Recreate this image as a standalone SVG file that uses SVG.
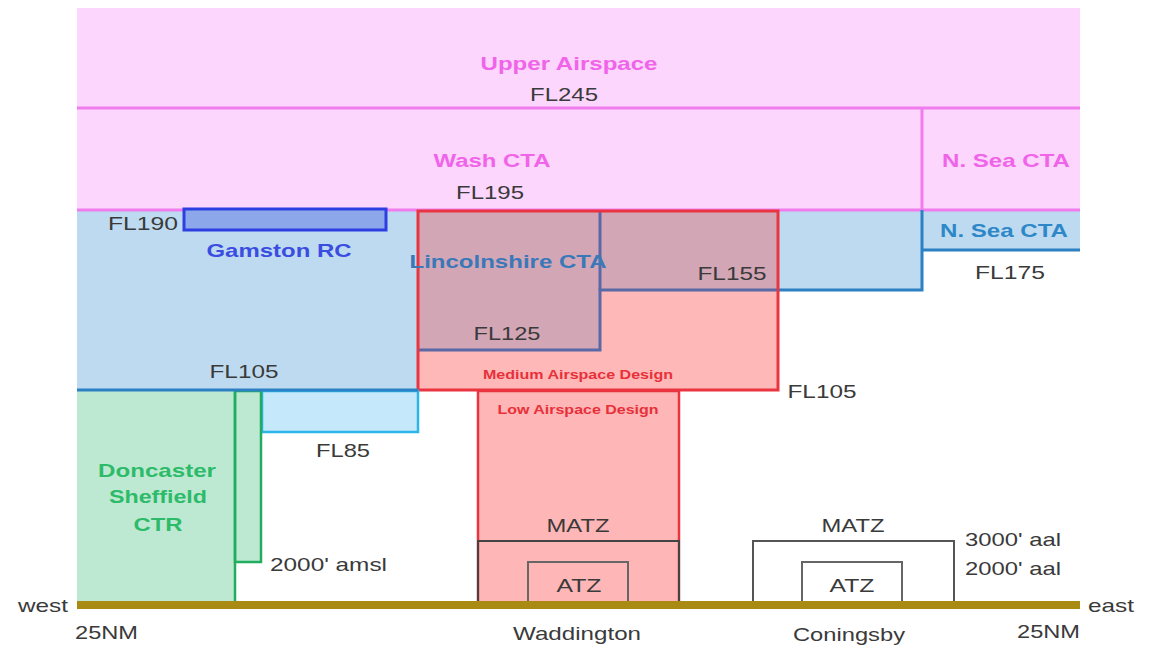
<svg xmlns="http://www.w3.org/2000/svg" width="1153" height="649" viewBox="0 0 1153 649">
<style>
text{font-family:"Liberation Sans",Arial,sans-serif;}
.fl{font-size:19px;fill:#3a3a3a;}
.mag{font-size:19px;font-weight:bold;fill:#f064ea;}
.red{font-size:12.5px;font-weight:bold;fill:#e8303a;}
.bl{font-size:19px;font-weight:bold;}
.c{text-anchor:middle;}
</style>
<rect width="1153" height="649" fill="#ffffff"/>
<g id="upper">
<rect x="77" y="8" width="1003" height="100" fill="#fdd6fd"/>
<text class="mag c" x="569" y="70" textLength="177" lengthAdjust="spacingAndGlyphs">Upper Airspace</text>
<text class="fl c" x="564" y="101" textLength="68" lengthAdjust="spacingAndGlyphs">FL245</text>
</g>
<g id="wash">
<rect x="77" y="108" width="845" height="102" fill="#fdd6fd"/>
<text class="mag c" x="492" y="167" textLength="117" lengthAdjust="spacingAndGlyphs">Wash CTA</text>
<text class="fl c" x="490" y="199" textLength="68" lengthAdjust="spacingAndGlyphs">FL195</text>
</g>
<g id="nsea-upper">
<rect x="922" y="108" width="158" height="102" fill="#fdd6fd"/>
<text class="mag c" x="1006" y="167" textLength="128" lengthAdjust="spacingAndGlyphs">N. Sea CTA</text>
</g>
<g id="lincs">
<path d="M77,210 H922 V290 H600 V350 H418 V390 H77 Z" fill="#bedaf0"/>
</g>
<g id="nsea-lower">
<rect x="922" y="210" width="158" height="40" fill="#bedaf0"/>
<path d="M1080,250 H922" fill="none" stroke="#2c80c4" stroke-width="3"/>
<text x="1004" y="237" class="bl c" fill="#2e88c8" textLength="128" lengthAdjust="spacingAndGlyphs">N. Sea CTA</text>
<text class="fl c" x="1010" y="279" textLength="70" lengthAdjust="spacingAndGlyphs">FL175</text>
</g>
<g id="lines-pink">
<line x1="77" y1="108" x2="1080" y2="108" stroke="#f07ced" stroke-width="3"/>
<line x1="77" y1="210" x2="1080" y2="210" stroke="#f07ced" stroke-width="3"/>
<line x1="922" y1="108" x2="922" y2="210" stroke="#f07ced" stroke-width="3"/>
</g>
<g id="gamston">
<rect x="184" y="209" width="202" height="21" fill="#8da8ea" stroke="#2d3fe2" stroke-width="3"/>
<text x="279" y="257" class="bl c" fill="#3a4de0" textLength="145" lengthAdjust="spacingAndGlyphs">Gamston RC</text>
<text class="fl" x="178" y="230" text-anchor="end" textLength="70" lengthAdjust="spacingAndGlyphs">FL190</text>
</g>
<g id="medium">
<rect x="418" y="211" width="360" height="179" fill="#ffb8b8"/>
<path d="M418,211 H778 V290 H600 V350 H418 Z" fill="#d3a6b6"/>
<path d="M778,290 H600 V350 H418" fill="none" stroke="#5a68a6" stroke-width="3"/>
<line x1="600" y1="211" x2="600" y2="290" stroke="#5a68a6" stroke-width="3"/>
<path d="M778,290 H922 V210" fill="none" stroke="#2c80c4" stroke-width="3"/>
<rect x="418" y="211" width="360" height="179" fill="none" stroke="#ea3540" stroke-width="3"/>
<text class="red c" x="578" y="379" textLength="190" lengthAdjust="spacingAndGlyphs">Medium Airspace Design</text>
</g>
<g id="lincs-labels">
<text x="508" y="268" class="bl c" fill="#3a78b8" textLength="197" lengthAdjust="spacingAndGlyphs">Lincolnshire CTA</text>
<text class="fl c" x="732" y="280" textLength="69" lengthAdjust="spacingAndGlyphs">FL155</text>
<text class="fl c" x="507" y="340" textLength="67" lengthAdjust="spacingAndGlyphs">FL125</text>
<text class="fl c" x="244" y="378" textLength="69" lengthAdjust="spacingAndGlyphs">FL105</text>
<text class="fl c" x="822" y="398" textLength="69" lengthAdjust="spacingAndGlyphs">FL105</text>
</g>
<g id="fl85">
<rect x="262" y="391" width="156" height="41" fill="#c6e8fb" stroke="#2ab6e8" stroke-width="2.5"/>
<text class="fl c" x="343" y="457" textLength="54" lengthAdjust="spacingAndGlyphs">FL85</text>
</g>
<g id="doncaster">
<rect x="77" y="391" width="158" height="213" fill="#bde9d2"/>
<rect x="235" y="391" width="26" height="171" fill="#bde9d2" stroke="#22ad5e" stroke-width="2.5"/>
<line x1="235" y1="391" x2="235" y2="604" stroke="#22ad5e" stroke-width="2.5"/>
<text x="157" y="477" class="bl c" fill="#2dbb6a" textLength="118" lengthAdjust="spacingAndGlyphs">Doncaster</text>
<text x="158" y="503" class="bl c" fill="#2dbb6a" textLength="98" lengthAdjust="spacingAndGlyphs">Sheffield</text>
<text x="158" y="531" class="bl c" fill="#2dbb6a" textLength="49" lengthAdjust="spacingAndGlyphs">CTR</text>
<text class="fl" x="270" y="571" textLength="117" lengthAdjust="spacingAndGlyphs">2000' amsl</text>
</g>
<line x1="77" y1="390" x2="418" y2="390" stroke="#2c80c4" stroke-width="3"/>
<g id="low">
<rect x="478" y="391" width="201" height="213" fill="#ffb6b6" stroke="#ea3540" stroke-width="2.5"/>
<text class="red c" x="578" y="414" textLength="161" lengthAdjust="spacingAndGlyphs">Low Airspace Design</text>
</g>
<g id="waddington">
<rect x="478" y="541" width="201" height="63" fill="none" stroke="#444444" stroke-width="2"/>
<rect x="528" y="562" width="100" height="42" fill="none" stroke="#666666" stroke-width="2"/>
<text class="fl c" x="578" y="532" textLength="63" lengthAdjust="spacingAndGlyphs">MATZ</text>
<text class="fl c" x="579" y="592" textLength="45" lengthAdjust="spacingAndGlyphs">ATZ</text>
<text class="fl c" x="577" y="640" textLength="128" lengthAdjust="spacingAndGlyphs">Waddington</text>
</g>
<g id="coningsby">
<rect x="753" y="541" width="201" height="63" fill="none" stroke="#555555" stroke-width="2"/>
<rect x="802" y="562" width="100" height="42" fill="none" stroke="#666666" stroke-width="2"/>
<text class="fl c" x="853" y="532" textLength="63" lengthAdjust="spacingAndGlyphs">MATZ</text>
<text class="fl c" x="852" y="592" textLength="45" lengthAdjust="spacingAndGlyphs">ATZ</text>
<text class="fl c" x="849" y="641" textLength="112" lengthAdjust="spacingAndGlyphs">Coningsby</text>
<text class="fl" x="965" y="546" textLength="96" lengthAdjust="spacingAndGlyphs">3000' aal</text>
<text class="fl" x="965" y="575" textLength="96" lengthAdjust="spacingAndGlyphs">2000' aal</text>
</g>
<g id="ground">
<line x1="77" y1="605" x2="1080" y2="605" stroke="#a98a12" stroke-width="8"/>
<text class="fl" x="18" y="612" textLength="50" lengthAdjust="spacingAndGlyphs">west</text>
<text class="fl" x="1088" y="612" textLength="46" lengthAdjust="spacingAndGlyphs">east</text>
<text class="fl" x="75" y="639" textLength="63" lengthAdjust="spacingAndGlyphs">25NM</text>
<text class="fl" x="1017" y="638" textLength="63" lengthAdjust="spacingAndGlyphs">25NM</text>
</g>
</svg>
